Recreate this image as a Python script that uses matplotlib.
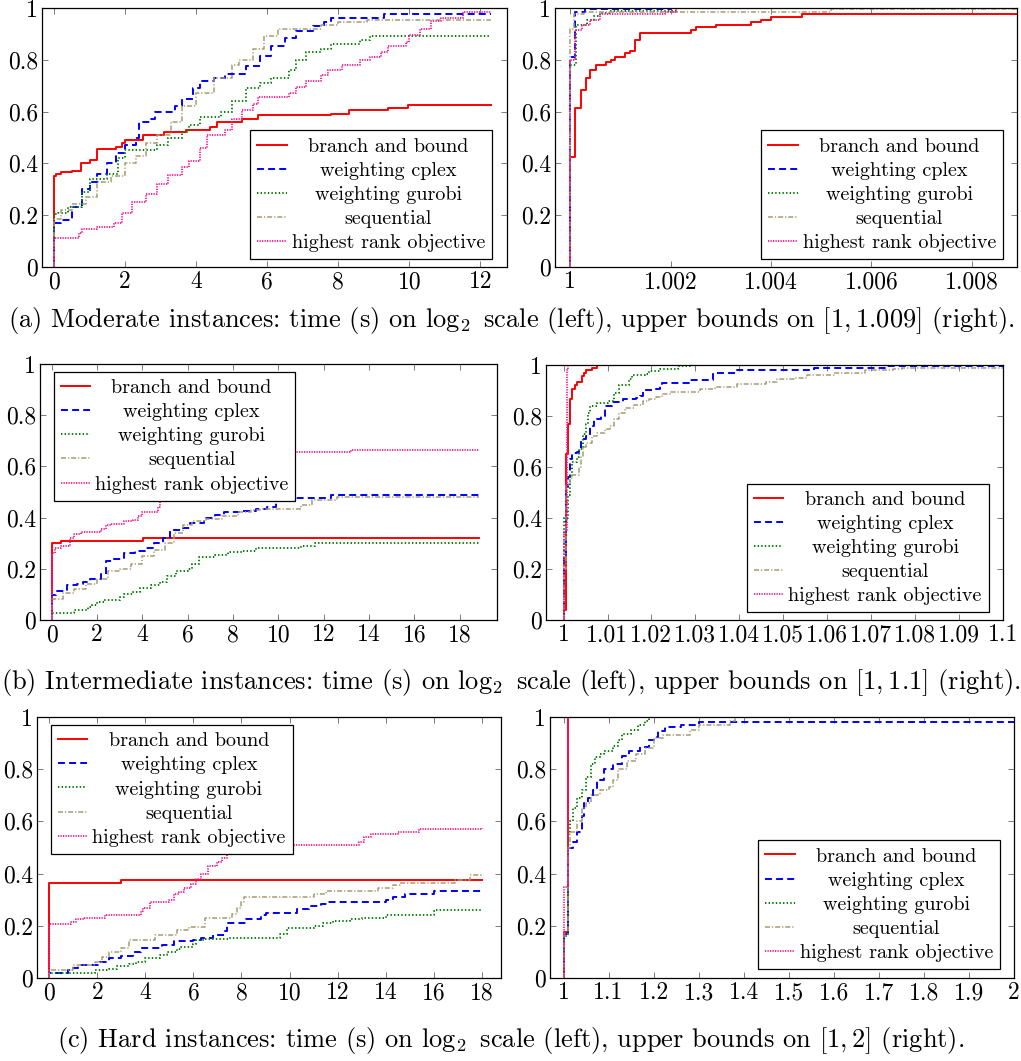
import matplotlib
matplotlib.use("Agg")
import matplotlib.pyplot as plt
from matplotlib.ticker import FixedLocator, FixedFormatter

plt.rcParams['font.family'] = ['cmr10', 'DejaVu Serif']
plt.rcParams['mathtext.fontset'] = 'cm'
plt.rcParams['axes.formatter.use_mathtext'] = True
plt.rcParams['lines.scale_dashes'] = False

series_names = ["branch and bound", "weighting cplex", "weighting gurobi",
                "sequential", "highest rank objective"]

# ---------------- (a) Moderate, time ----------------
a_time_bb_x = [0, 0, 0.05, 0.2, 0.5, 0.75, 1.0, 1.2, 1.75, 1.9, 2.0, 2.5, 3.1, 3.7, 4.4, 4.6, 5.3, 5.75, 7.8, 8.3, 9.4, 9.95, 12.3]
a_time_bb_y = [0, 0.35, 0.36, 0.365, 0.37, 0.40, 0.415, 0.455, 0.465, 0.48, 0.49, 0.51, 0.52, 0.53, 0.54, 0.56, 0.57, 0.585, 0.59, 0.605, 0.615, 0.625, 0.625]
a_time_cp_x = [0, 0, 0.2, 0.5, 0.8, 1.0, 1.2, 1.5, 1.75, 2.0, 2.3, 2.4, 2.7, 2.85, 3.4, 3.6, 3.9, 4.1, 4.5, 4.8, 5.4, 5.8, 6.1, 6.5, 6.8, 7.3, 7.6, 7.8, 9.3, 12.3]
a_time_cp_y = [0, 0.17, 0.18, 0.23, 0.30, 0.33, 0.36, 0.40, 0.44, 0.47, 0.50, 0.56, 0.57, 0.60, 0.62, 0.65, 0.69, 0.72, 0.73, 0.745, 0.775, 0.815, 0.855, 0.885, 0.91, 0.93, 0.945, 0.962, 0.978, 0.978]
a_time_gu_x = [0, 0, 0.1, 0.4, 0.8, 1.0, 1.5, 1.8, 2.0, 2.9, 3.2, 3.6, 3.8, 4.1, 4.7, 5.0, 5.4, 5.8, 6.1, 6.6, 6.8, 7.1, 7.5, 7.8, 8.6, 8.9, 12.3]
a_time_gu_y = [0, 0.205, 0.21, 0.23, 0.29, 0.34, 0.36, 0.42, 0.45, 0.47, 0.50, 0.52, 0.55, 0.58, 0.60, 0.64, 0.69, 0.71, 0.73, 0.76, 0.80, 0.83, 0.84, 0.86, 0.875, 0.893, 0.893]
a_time_sq_x = [0, 0, 0.2, 0.5, 0.9, 1.2, 1.6, 2.0, 2.3, 2.6, 2.9, 3.3, 3.6, 4.0, 4.5, 5.0, 5.2, 5.6, 5.9, 6.3, 7.5, 8.0, 8.8, 12.3]
a_time_sq_y = [0, 0.186, 0.22, 0.245, 0.27, 0.33, 0.35, 0.40, 0.43, 0.48, 0.51, 0.56, 0.62, 0.67, 0.73, 0.78, 0.80, 0.84, 0.89, 0.92, 0.935, 0.945, 0.955, 0.955]
a_time_hr_x = [0, 0, 0.7, 0.8, 1.2, 1.7, 1.9, 2.2, 2.6, 2.9, 3.2, 3.6, 3.8, 4.1, 4.3, 4.8, 5.0, 5.3, 5.6, 5.75, 6.6, 6.8, 7.1, 7.5, 7.7, 8.1, 8.6, 8.9, 9.2, 9.4, 9.9, 10.0, 10.3, 10.6, 10.9, 11.5, 12.3]
a_time_hr_y = [0, 0.112, 0.13, 0.145, 0.155, 0.17, 0.21, 0.25, 0.28, 0.32, 0.355, 0.385, 0.41, 0.46, 0.51, 0.53, 0.57, 0.605, 0.63, 0.655, 0.67, 0.695, 0.72, 0.74, 0.76, 0.78, 0.80, 0.81, 0.83, 0.855, 0.87, 0.895, 0.92, 0.95, 0.96, 0.985, 0.985]

# ---------------- (a) Moderate, upper bounds ----------------
a_ub_bb_x = [1.0, 1.0, 1.0001, 1.00021, 1.00031, 1.0004, 1.00052, 1.00072, 1.00081, 1.0009, 1.0011, 1.0012, 1.0013, 1.0014, 1.0024, 1.0025, 1.0029, 1.0036, 1.0038, 1.004, 1.00462, 1.009]
a_ub_bb_y = [0, 0.426, 0.615, 0.685, 0.73, 0.76, 0.78, 0.79, 0.80, 0.81, 0.825, 0.835, 0.875, 0.905, 0.915, 0.925, 0.935, 0.945, 0.955, 0.965, 0.978, 0.978]
a_ub_cp_x = [1.0, 1.0, 1.0001, 1.0003, 1.002, 1.009]
a_ub_cp_y = [0, 0.81, 0.985, 0.995, 1.0, 1.0]
a_ub_gu_x = [1.0, 1.0, 1.00011, 1.00033, 1.00047, 1.0006, 1.0008, 1.0021, 1.009]
a_ub_gu_y = [0, 0.78, 0.935, 0.955, 0.97, 0.98, 0.99, 1.0, 1.0]
a_ub_sq_x = [1.0, 1.0, 1.00007, 1.00027, 1.0052, 1.009]
a_ub_sq_y = [0, 0.92, 0.975, 0.985, 0.995, 0.995]
a_ub_hr_x = [1.0, 1.0, 1.0001, 1.00023, 1.0004, 1.0006, 1.0019, 1.0021, 1.009]
a_ub_hr_y = [0, 0.80, 0.915, 0.935, 0.955, 0.975, 0.985, 1.0, 1.0]

# ---------------- (b) Intermediate, time ----------------
b_time_bb_x = [0, 0, 0.41, 4.04, 4.9, 18.84]
b_time_bb_y = [0, 0.301, 0.31, 0.32, 0.322, 0.322]
b_time_cp_x = [0, 0, 0.2, 0.7, 1.1, 1.4, 1.7, 2.2, 2.4, 2.7, 3.2, 3.7, 4.1, 4.5, 4.9, 5.2, 5.7, 6.1, 6.7, 7.2, 7.6, 8.4, 9.0, 9.5, 9.9, 10.0, 12.3, 18.84]
b_time_cp_y = [0, 0.098, 0.115, 0.135, 0.14, 0.15, 0.16, 0.18, 0.23, 0.24, 0.26, 0.27, 0.28, 0.30, 0.32, 0.35, 0.36, 0.38, 0.40, 0.41, 0.42, 0.425, 0.435, 0.44, 0.46, 0.475, 0.488, 0.488]
b_time_gu_x = [0, 0, 1.0, 1.6, 1.8, 2.0, 2.3, 3.0, 3.2, 3.6, 3.9, 4.4, 4.8, 5.1, 5.5, 6.0, 6.2, 6.5, 7.2, 7.8, 8.4, 9.0, 11.0, 11.6, 18.84]
b_time_gu_y = [0, 0.028, 0.04, 0.05, 0.06, 0.07, 0.08, 0.09, 0.10, 0.11, 0.125, 0.135, 0.15, 0.17, 0.19, 0.20, 0.22, 0.245, 0.255, 0.265, 0.27, 0.28, 0.29, 0.30, 0.30]
b_time_sq_x = [0, 0, 0.5, 1.0, 1.5, 2.0, 2.5, 3.0, 3.5, 4.0, 4.5, 5.0, 5.4, 5.8, 6.2, 6.8, 7.5, 8.2, 8.8, 9.2, 11.0, 11.5, 12.6, 18.84]
b_time_sq_y = [0, 0.081, 0.105, 0.12, 0.14, 0.16, 0.19, 0.20, 0.22, 0.25, 0.275, 0.30, 0.34, 0.37, 0.385, 0.395, 0.405, 0.42, 0.43, 0.435, 0.45, 0.47, 0.48, 0.48]
b_time_hr_x = [0, 0, 0.15, 0.4, 0.8, 1.0, 1.3, 2.2, 2.4, 2.6, 3.2, 3.6, 3.8, 4.0, 4.7, 4.8, 5.0, 5.2, 5.6, 6.0, 6.5, 7.0, 8.0, 9.0, 10.0, 13.2, 18.84]
b_time_hr_y = [0, 0.262, 0.28, 0.29, 0.32, 0.335, 0.345, 0.355, 0.37, 0.375, 0.385, 0.39, 0.405, 0.42, 0.44, 0.47, 0.49, 0.52, 0.55, 0.58, 0.60, 0.62, 0.635, 0.645, 0.655, 0.665, 0.665]

# ---------------- (b) Intermediate, upper bounds ----------------
b_ub_bb_x = [1.0, 1.0, 1.0005, 1.001, 1.0015, 1.002, 1.0025, 1.003, 1.0042, 1.0047, 1.0052, 1.0065, 1.0075, 1.1]
b_ub_bb_y = [0, 0.04, 0.65, 0.77, 0.865, 0.905, 0.92, 0.935, 0.955, 0.97, 0.98, 0.99, 1.0, 1.0]
b_ub_cp_x = [1.0, 1.0, 1.0005, 1.001, 1.0015, 1.002, 1.003, 1.0035, 1.004, 1.005, 1.006, 1.007, 1.0075, 1.0085, 1.0095, 1.011, 1.0135, 1.0165, 1.0175, 1.018, 1.0205, 1.022, 1.0225, 1.0285, 1.034, 1.0395, 1.057, 1.0736, 1.1]
b_ub_cp_y = [0, 0.25, 0.52, 0.56, 0.63, 0.655, 0.66, 0.67, 0.71, 0.72, 0.76, 0.785, 0.79, 0.80, 0.84, 0.855, 0.865, 0.87, 0.88, 0.90, 0.905, 0.92, 0.93, 0.94, 0.967, 0.979, 0.989, 0.995, 0.995]
b_ub_gu_x = [1.0, 1.0, 1.001, 1.0015, 1.002, 1.003, 1.0035, 1.0045, 1.005, 1.0055, 1.006, 1.0075, 1.01, 1.0115, 1.0125, 1.015, 1.0155, 1.0185, 1.0195, 1.022, 1.026, 1.029, 1.1]
b_ub_gu_y = [0, 0.40, 0.49, 0.56, 0.62, 0.64, 0.67, 0.73, 0.77, 0.81, 0.84, 0.85, 0.86, 0.89, 0.92, 0.945, 0.96, 0.965, 0.975, 0.985, 0.995, 1.0, 1.0]
b_ub_sq_x = [1.0, 1.0, 1.0005, 1.0015, 1.002, 1.0035, 1.004, 1.0045, 1.005, 1.0065, 1.0075, 1.0095, 1.0105, 1.0115, 1.0125, 1.014, 1.016, 1.018, 1.0195, 1.021, 1.0225, 1.0245, 1.031, 1.0345, 1.0395, 1.046, 1.0485, 1.0525, 1.0555, 1.0615, 1.0685, 1.075, 1.077, 1.1]
b_ub_sq_y = [0, 0.20, 0.53, 0.555, 0.57, 0.60, 0.64, 0.68, 0.695, 0.72, 0.735, 0.75, 0.76, 0.79, 0.81, 0.83, 0.845, 0.86, 0.865, 0.875, 0.885, 0.895, 0.905, 0.915, 0.925, 0.935, 0.945, 0.95, 0.96, 0.97, 0.98, 0.985, 0.99, 0.99]
b_ub_hr_x = [1.0, 1.0, 1.0007, 1.001, 1.1]
b_ub_hr_y = [0, 0.35, 0.98, 1.0, 1.0]

# ---------------- (c) Hard, time ----------------
c_time_bb_x = [0, 0, 3.0, 18.0]
c_time_bb_y = [0, 0.365, 0.375, 0.375]
c_time_cp_x = [0, 0, 0.8, 0.9, 1.2, 2.1, 2.5, 3.0, 3.5, 3.8, 4.7, 5.2, 6.0, 6.3, 6.8, 7.3, 7.4, 8.2, 8.8, 9.0, 10.3, 10.8, 11.3, 11.6, 14.0, 14.3, 14.8, 16.0, 18.0]
c_time_cp_y = [0, 0.02, 0.03, 0.04, 0.05, 0.06, 0.075, 0.085, 0.10, 0.115, 0.125, 0.14, 0.145, 0.155, 0.165, 0.18, 0.21, 0.225, 0.24, 0.25, 0.265, 0.275, 0.285, 0.29, 0.30, 0.31, 0.32, 0.333, 0.333]
c_time_gu_x = [0, 0, 1.9, 2.5, 2.8, 3.3, 3.6, 4.0, 4.6, 4.9, 5.3, 5.5, 6.0, 6.1, 6.5, 7.5, 9.6, 9.9, 11.0, 11.4, 11.8, 12.5, 13.0, 14.0, 16.0, 16.1, 18.0]
c_time_gu_y = [0, 0.02, 0.03, 0.035, 0.045, 0.055, 0.06, 0.075, 0.09, 0.10, 0.11, 0.12, 0.13, 0.145, 0.15, 0.155, 0.17, 0.19, 0.20, 0.21, 0.22, 0.225, 0.23, 0.24, 0.255, 0.26, 0.26]
c_time_sq_x = [0, 0, 1.0, 1.9, 2.2, 2.5, 3.0, 3.3, 4.4, 5.3, 5.8, 6.5, 7.6, 7.8, 8.0, 8.1, 11.0, 11.5, 13.7, 14.3, 14.6, 16.9, 17.5, 18.0]
c_time_sq_y = [0, 0.03, 0.05, 0.06, 0.08, 0.10, 0.115, 0.145, 0.165, 0.185, 0.195, 0.23, 0.245, 0.27, 0.29, 0.31, 0.32, 0.335, 0.345, 0.355, 0.365, 0.375, 0.395, 0.40]
c_time_hr_x = [0, 0, 0.9, 1.1, 1.4, 2.3, 3.8, 3.9, 4.2, 5.0, 5.2, 5.4, 5.6, 5.9, 6.1, 6.3, 6.6, 7.0, 7.2, 7.4, 8.0, 9.0, 9.8, 12.9, 13.1, 13.4, 14.5, 15.4, 18.0]
c_time_hr_y = [0, 0.205, 0.215, 0.225, 0.23, 0.24, 0.255, 0.27, 0.29, 0.30, 0.32, 0.33, 0.345, 0.36, 0.38, 0.40, 0.43, 0.445, 0.46, 0.475, 0.49, 0.50, 0.51, 0.52, 0.54, 0.55, 0.56, 0.57, 0.575]

# ---------------- (c) Hard, upper bounds ----------------
c_ub_bb_x = [1.0, 1.0, 1.011, 2.0]
c_ub_bb_y = [0, 0.175, 1.0, 1.0]
c_ub_cp_x = [1.0, 1.0, 1.01, 1.02, 1.03, 1.04, 1.045, 1.055, 1.065, 1.075, 1.09, 1.11, 1.13, 1.145, 1.17, 1.19, 1.2, 1.21, 1.225, 1.26, 1.3, 2.0]
c_ub_cp_y = [0, 0.17, 0.50, 0.52, 0.56, 0.62, 0.67, 0.69, 0.72, 0.76, 0.80, 0.82, 0.85, 0.87, 0.885, 0.91, 0.925, 0.945, 0.96, 0.97, 0.98, 0.98]
c_ub_gu_x = [1.0, 1.0, 1.01, 1.015, 1.02, 1.03, 1.04, 1.05, 1.06, 1.07, 1.08, 1.09, 1.11, 1.12, 1.13, 1.15, 1.165, 1.18, 1.19, 2.0]
c_ub_gu_y = [0, 0.16, 0.55, 0.60, 0.65, 0.69, 0.72, 0.77, 0.82, 0.845, 0.86, 0.87, 0.89, 0.91, 0.935, 0.95, 0.97, 0.985, 1.0, 1.0]
c_ub_sq_x = [1.0, 1.0, 1.01, 1.015, 1.03, 1.04, 1.05, 1.06, 1.08, 1.1, 1.11, 1.12, 1.14, 1.16, 1.18, 1.2, 1.22, 1.28, 1.3, 1.37, 1.38, 2.0]
c_ub_sq_y = [0, 0.17, 0.50, 0.56, 0.60, 0.65, 0.67, 0.70, 0.72, 0.73, 0.76, 0.80, 0.83, 0.86, 0.88, 0.92, 0.93, 0.95, 0.97, 0.985, 1.0, 1.0]
c_ub_hr_x = [1.0, 1.0, 1.01, 2.0]
c_ub_hr_y = [0, 0.35, 1.0, 1.0]

# ---------------- ticks and captions ----------------
y_ticks = [0, 0.2, 0.4, 0.6, 0.8, 1.0]
y_labels = ["0", "0.2", "0.4", "0.6", "0.8", "1"]
a_time_ticks = [0, 2, 4, 6, 8, 10, 12]
a_ub_ticks = [1.0, 1.002, 1.004, 1.006, 1.008]
a_ub_labels = ["1", "1.002", "1.004", "1.006", "1.008"]
b_time_ticks = [0, 2, 4, 6, 8, 10, 12, 14, 16, 18]
b_ub_ticks = [1.0, 1.01, 1.02, 1.03, 1.04, 1.05, 1.06, 1.07, 1.08, 1.09, 1.1]
b_ub_labels = ["1", "1.01", "1.02", "1.03", "1.04", "1.05", "1.06", "1.07", "1.08", "1.09", "1.1"]
c_time_ticks = [0, 2, 4, 6, 8, 10, 12, 14, 16, 18]
c_ub_ticks = [1.0, 1.1, 1.2, 1.3, 1.4, 1.5, 1.6, 1.7, 1.8, 1.9, 2.0]
c_ub_labels = ["1", "1.1", "1.2", "1.3", "1.4", "1.5", "1.6", "1.7", "1.8", "1.9", "2"]
captions = [
    r"(a) Moderate instances: time (s) on $\log_2$ scale (left), upper bounds on $[1, 1.009]$ (right).",
    r"(b) Intermediate instances: time (s) on $\log_2$ scale (left), upper bounds on $[1, 1.1]$ (right).",
    r"(c) Hard instances: time (s) on $\log_2$ scale (left), upper bounds on $[1, 2]$ (right).",
]

colors = ["#ff0000", "#0000ff", "#008000", "#a59b73", "#ff1493"]
styles = [dict(linestyle="-"),
          dict(linestyle=(0, (5.0, 3.0))),
          dict(linestyle=(0, (1.0, 1.6))),
          dict(linestyle=(0, (3.6, 1.4, 0.9, 1.4))),
          dict(linestyle=(0, (0.9, 0.9)))]
widths = [1.4, 1.4, 1.4, 1.1, 1.3]

W, H = 1021, 1061
fig = plt.figure(figsize=(W / 100, H / 100), dpi=100)


def add_ax(l, t, r, b):
    return fig.add_axes([l / W, 1 - b / H, (r - l) / W, (b - t) / H])


def draw(ax, xs, ys, xlim, xticks, xlabels, legend_loc, anchor):
    for i in range(5):
        ax.plot(xs[i], ys[i], drawstyle="steps-post", color=colors[i],
                lw=widths[i], **styles[i], label=series_names[i])
    ax.set_xlim(*xlim)
    ax.set_ylim(0, 1)
    ax.xaxis.set_major_locator(FixedLocator(xticks))
    ax.xaxis.set_major_formatter(FixedFormatter(xlabels))
    ax.yaxis.set_major_locator(FixedLocator(y_ticks))
    ax.yaxis.set_major_formatter(FixedFormatter(y_labels))
    ax.tick_params(direction="in", length=4, width=0.6, color="#666666",
                   top=True, right=True, labelsize=17, pad=3)
    for s in ax.spines.values():
        s.set_linewidth(0.9)
    leg = ax.legend(loc=legend_loc, bbox_to_anchor=anchor, borderaxespad=0,
                    fontsize=14.5, frameon=True, fancybox=False, framealpha=1,
                    edgecolor="black", handlelength=1.45, handletextpad=0.25,
                    labelspacing=0.3, borderpad=0.35)
    leg.get_frame().set_linewidth(0.9)
    fig.canvas.draw()
    renderer = fig.canvas.get_renderer()
    texts = leg.get_texts()
    ws = [t.get_window_extent(renderer).width for t in texts]
    wmax = max(ws)
    for t, w in zip(texts, ws):
        t.set_position(((wmax - w) / 2, 0))
    return ax


ax1 = add_ax(42, 8, 507, 267)
draw(ax1, [a_time_bb_x, a_time_cp_x, a_time_gu_x, a_time_sq_x, a_time_hr_x],
     [a_time_bb_y, a_time_cp_y, a_time_gu_y, a_time_sq_y, a_time_hr_y],
     (-0.34, 12.75), a_time_ticks, [str(v) for v in a_time_ticks],
     "lower right", (0.968, 0.03))
ax2 = add_ax(555, 8, 1017, 267)
draw(ax2, [a_ub_bb_x, a_ub_cp_x, a_ub_gu_x, a_ub_sq_x, a_ub_hr_x],
     [a_ub_bb_y, a_ub_cp_y, a_ub_gu_y, a_ub_sq_y, a_ub_hr_y],
     (0.9997, 1.0089), a_ub_ticks, a_ub_labels, "lower right", (0.97, 0.03))
ax3 = add_ax(40, 364, 497, 620)
draw(ax3, [b_time_bb_x, b_time_cp_x, b_time_gu_x, b_time_sq_x, b_time_hr_x],
     [b_time_bb_y, b_time_cp_y, b_time_gu_y, b_time_sq_y, b_time_hr_y],
     (-0.51, 19.64), b_time_ticks, [str(v) for v in b_time_ticks],
     "upper left", (0.03, 0.969))
ax4 = add_ax(546, 365, 1003, 620)
draw(ax4, [b_ub_bb_x, b_ub_cp_x, b_ub_gu_x, b_ub_sq_x, b_ub_hr_x],
     [b_ub_bb_y, b_ub_cp_y, b_ub_gu_y, b_ub_sq_y, b_ub_hr_y],
     (0.996, 1.1), b_ub_ticks, b_ub_labels, "lower right", (0.969, 0.03))
ax5 = add_ax(37, 717, 501, 978)
draw(ax5, [c_time_bb_x, c_time_cp_x, c_time_gu_x, c_time_sq_x, c_time_hr_x],
     [c_time_bb_y, c_time_cp_y, c_time_gu_y, c_time_sq_y, c_time_hr_y],
     (-0.51, 18.8), c_time_ticks, [str(v) for v in c_time_ticks],
     "upper left", (0.03, 0.969))
ax6 = add_ax(550, 717, 1014, 978)
draw(ax6, [c_ub_bb_x, c_ub_cp_x, c_ub_gu_x, c_ub_sq_x, c_ub_hr_x],
     [c_ub_bb_y, c_ub_cp_y, c_ub_gu_y, c_ub_sq_y, c_ub_hr_y],
     (0.97, 2.0), c_ub_ticks, c_ub_labels, "lower right", (0.97, 0.034))

for cap, yc in zip(captions, [320, 683, 1040]):
    fig.text(511 / W, 1 - yc / H, cap, ha="center", va="center", fontsize=19)

fig.savefig("out.png", dpi=100)
